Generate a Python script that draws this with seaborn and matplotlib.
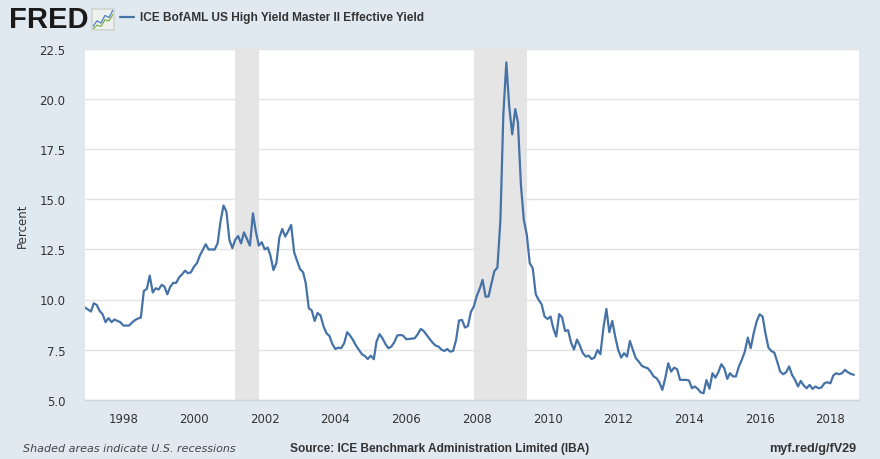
import pandas as pd
import matplotlib
matplotlib.use("Agg")
import matplotlib.pyplot as plt
import matplotlib.dates as mdates
import seaborn as sns

# monthly ICE BofAML US High Yield Master II Effective Yield, Dec 1996 - Sep 2018
start_month = "1996-12-01"
yield_pct = [
    9.60, 9.50, 9.40, 9.81, 9.73, 9.43, 9.26, 8.87, 9.07, 8.87, 9.00, 8.93,
    8.87, 8.70, 8.70, 8.70, 8.85, 8.97, 9.05, 9.10, 10.43, 10.53, 11.19, 10.35,
    10.56, 10.50, 10.73, 10.65, 10.26, 10.64, 10.83, 10.83, 11.11, 11.26, 11.44, 11.31,
    11.36, 11.64, 11.81, 12.19, 12.47, 12.76, 12.49, 12.50, 12.49, 12.80, 13.89, 14.69,
    14.39, 12.97, 12.56, 12.97, 13.17, 12.80, 13.35, 13.02, 12.69, 14.30, 13.39, 12.69,
    12.86, 12.50, 12.59, 12.19, 11.47, 11.81, 13.09, 13.52, 13.14, 13.42, 13.72, 12.35,
    11.93, 11.52, 11.36, 10.81, 9.56, 9.46, 8.93, 9.33, 9.20, 8.65, 8.32, 8.18,
    7.77, 7.53, 7.60, 7.57, 7.82, 8.37, 8.20, 7.98, 7.70, 7.48, 7.27, 7.18,
    7.03, 7.20, 7.02, 7.90, 8.27, 8.07, 7.78, 7.57, 7.65, 7.87, 8.20, 8.23,
    8.20, 8.02, 8.03, 8.05, 8.07, 8.27, 8.53, 8.43, 8.23, 8.03, 7.85, 7.70,
    7.65, 7.50, 7.43, 7.53, 7.40, 7.43, 7.98, 8.95, 8.98, 8.60, 8.68, 9.38,
    9.65, 10.18, 10.55, 10.98, 10.14, 10.15, 10.81, 11.42, 11.59, 13.97, 19.20, 21.83,
    19.62, 18.24, 19.50, 18.84, 15.71, 13.97, 13.22, 11.81, 11.56, 10.26, 9.98, 9.76,
    9.15, 9.03, 9.15, 8.57, 8.15, 9.27, 9.10, 8.43, 8.47, 7.85, 7.50, 8.00,
    7.70, 7.32, 7.15, 7.20, 7.03, 7.10, 7.48, 7.27, 8.57, 9.53, 8.37, 8.93,
    8.15, 7.48, 7.10, 7.32, 7.15, 7.93, 7.48, 7.07, 6.90, 6.69, 6.62, 6.57,
    6.40, 6.16, 6.07, 5.86, 5.49, 6.07, 6.82, 6.40, 6.60, 6.52, 5.99, 5.99,
    5.99, 5.96, 5.57, 5.66, 5.55, 5.37, 5.32, 5.98, 5.55, 6.32, 6.10, 6.37,
    6.77, 6.57, 6.04, 6.32, 6.16, 6.16, 6.66, 6.99, 7.40, 8.10, 7.57, 8.32,
    8.90, 9.26, 9.15, 8.32, 7.60, 7.43, 7.35, 6.90, 6.40, 6.27, 6.37, 6.66,
    6.24, 5.99, 5.66, 5.94, 5.71, 5.57, 5.74, 5.54, 5.66, 5.57, 5.61, 5.82,
    5.87, 5.82, 6.21, 6.32, 6.27, 6.32, 6.49, 6.37, 6.29, 6.24,
]
recession_start = ["2001-03-01", "2007-12-01"]
recession_end = ["2001-11-01", "2009-06-01"]
y_ticks = [5.0, 7.5, 10.0, 12.5, 15.0, 17.5, 20.0, 22.5]
x_tick_years = [1998, 2000, 2002, 2004, 2006, 2008, 2010, 2012, 2014, 2016, 2018]
logo_blue = [1, 2, 1.6, 3, 2.6, 4]
logo_green = [0.5, 1.2, 1.0, 2.2, 2.0, 3.2]

series_name = "ICE BofAML US High Yield Master II Effective Yield"

df = pd.DataFrame({
    "date": pd.date_range(start_month, periods=len(yield_pct), freq="MS"),
    "yield": yield_pct,
})

bg = "#e1e9f0"
line_col = "#4572a7"
txt = "#333333"

sns.set_theme(style="white", rc={
    "figure.facecolor": bg,
    "axes.facecolor": "white",
    "axes.edgecolor": "#c8d4e3",
    "grid.color": "#e3e3e3",
    "xtick.color": "#c8d4e3",
    "ytick.color": txt,
})
plt.rcParams["font.family"] = ["DejaVu Sans"]

fig = plt.figure(figsize=(8.8, 4.6), dpi=100)
ax = fig.add_axes([85 / 880, 1 - 400.7 / 460, (859.3 - 85) / 880, (400.7 - 50) / 460])

for s, e in zip(recession_start, recession_end):
    ax.axvspan(pd.Timestamp(s), pd.Timestamp(e), color="#e5e5e5", lw=0, zorder=0)

sns.lineplot(data=df, x="date", y="yield", color=line_col, linewidth=1.6, ax=ax, zorder=3)

ax.set_xlim(pd.Timestamp("1996-12-01"), pd.Timestamp("2018-10-27"))
ax.set_ylim(5.0, 22.5)
ax.set_yticks(y_ticks)
ax.set_yticklabels([f"{v:.1f}" for v in y_ticks], fontsize=8.5, color=txt)
ax.set_xticks([pd.Timestamp(f"{y}-01-01") for y in x_tick_years])
ax.xaxis.set_major_formatter(mdates.DateFormatter("%Y"))
for lbl in ax.get_xticklabels():
    lbl.set_fontsize(8.5)
    lbl.set_color(txt)
ax.tick_params(axis="x", length=6, width=1, pad=3, colors="#c8d4e3", labelcolor=txt)
ax.tick_params(axis="y", length=0, pad=14)
ax.yaxis.grid(True, linewidth=1)
ax.xaxis.grid(False)
for side in ["top", "left", "right"]:
    ax.spines[side].set_visible(False)
ax.spines["bottom"].set_color("#c8d4e3")
ax.spines["bottom"].set_linewidth(1)
ax.set_xlabel("")
ax.set_ylabel("Percent", fontsize=8.5, color=txt)
ax.yaxis.set_label_coords(-0.073, 0.5)

# header
fig.text(9 / 880, 1 - 20 / 460, "FRED", fontsize=21, fontweight="bold", color="#1a1a1a",
         va="center", ha="left", family=["Liberation Sans"])
logo = fig.add_axes([92 / 880, 1 - 31 / 460, 22 / 880, 21 / 460])
logo.set_facecolor("#eef1ee")
logo.plot(logo_blue, color="#4f7fc2", lw=0.9)
logo.plot(logo_green, color="#7fb24a", lw=0.9)
logo.set_xticks([])
logo.set_yticks([])
for sp in logo.spines.values():
    sp.set_color("#d0d6d0")
fig.lines.append(plt.Line2D([120 / 880, 134 / 880], [1 - 18 / 460, 1 - 18 / 460],
                            transform=fig.transFigure, color=line_col, lw=1.6))
fig.text(140 / 880, 1 - 18 / 460, series_name, fontsize=8.6, fontweight="bold",
         color=txt, va="center", ha="left", family=["Liberation Sans"])

# footer
fig.text(23 / 880, 1 - 449 / 460, "Shaded areas indicate U.S. recessions", fontsize=8,
         style="italic", color="#444444", va="center", ha="left")
fig.text(290 / 880, 1 - 449 / 460, "Source: ICE Benchmark Administration Limited (IBA)",
         fontsize=8.6, fontweight="bold", color=txt, va="center", ha="left",
         family=["Liberation Sans"])
fig.text(856 / 880, 1 - 449 / 460, "myf.red/g/fV29", fontsize=9.1, fontweight="bold",
         color=txt, va="center", ha="right", family=["Liberation Sans"])

fig.savefig("out.png", dpi=100, facecolor=bg)
